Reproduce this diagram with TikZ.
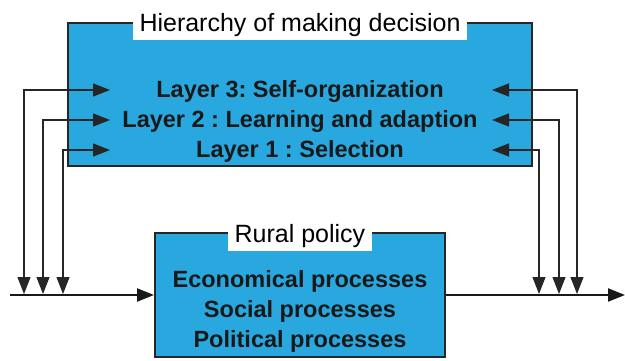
\documentclass[tikz,border=0pt]{standalone}
\usepackage{fontspec}
\setmainfont{Liberation Sans}
\usepackage{xcolor}
\usepackage{tikz}
\usetikzlibrary{arrows.meta,positioning}

\definecolor{boxblue}{RGB}{41,168,224}
\frenchspacing

\begin{document}
\begin{tikzpicture}[x=1pt, y=-1pt,
  bluebox/.style={draw=black!85, line width=2pt, fill=boxblue},
  boxtitle/.style={fill=white, inner xsep=7pt, inner ysep=3pt, anchor=base,
    font=\fontsize{25}{28}\selectfont},
  proc/.style={anchor=base, font=\fontsize{23.5}{26}\selectfont\bfseries, text=black!90},
  feed/.style={{Triangle[length=17pt,width=13pt]}-{Triangle[length=17pt,width=13pt]},
    line width=1.2pt, black!85},
  flow/.style={-{Triangle[length=17pt,width=13pt]}, line width=2.2pt, black!90}]

\useasboundingbox (0,0) rectangle (625,361);

% Boxes
\node[bluebox, minimum width=464pt, minimum height=143pt] (hier) at (300,94.5) {};
\node[bluebox, minimum width=290pt, minimum height=124pt] (rural) at (300,295) {};

% Feedback end points
\coordinate (src) at (10,295);
\coordinate (dst) at (625,295);
\coordinate (d3) at (24,294);
\coordinate (d2) at (43,294);
\coordinate (d1) at (63,294);
\coordinate (r1) at (539,294);
\coordinate (r2) at (559,294);
\coordinate (r3) at (577,294);
\coordinate (a3) at (110,90);
\coordinate (a2) at (110,120);
\coordinate (a1) at (110,150);
\coordinate (b3) at (492,90);
\coordinate (b2) at (492,120);
\coordinate (b1) at (492,150);

% Connectors
\draw[feed] (d3) |- (a3);
\draw[feed] (d2) |- (a2);
\draw[feed] (d1) |- (a1);
\draw[feed] (r3) |- (b3);
\draw[feed] (r2) |- (b2);
\draw[feed] (r1) |- (b1);
\draw[flow] (src) -- (rural.west);
\draw[flow] (rural.east) -- (dst);

% Titles
\node[boxtitle] (hiertitle) at (300,32) {Hierarchy of making decision};
\node[boxtitle] (ruraltitle) at (300,243) {Rural policy};

% Layers
\node[proc] (l3) at (300,97.5) {Layer 3: Self-organization};
\node[proc] (l2) at (300,127.5) {Layer 2 : Learning and adaption};
\node[proc] (l1) at (300,157.5) {Layer 1 : Selection};

% Processes
\node[proc] (econ) at (300,287.5) {Economical processes};
\node[proc] (soc) at (300,317.5) {Social processes};
\node[proc] (pol) at (300,347.5) {Political processes};

\end{tikzpicture}
\end{document}
